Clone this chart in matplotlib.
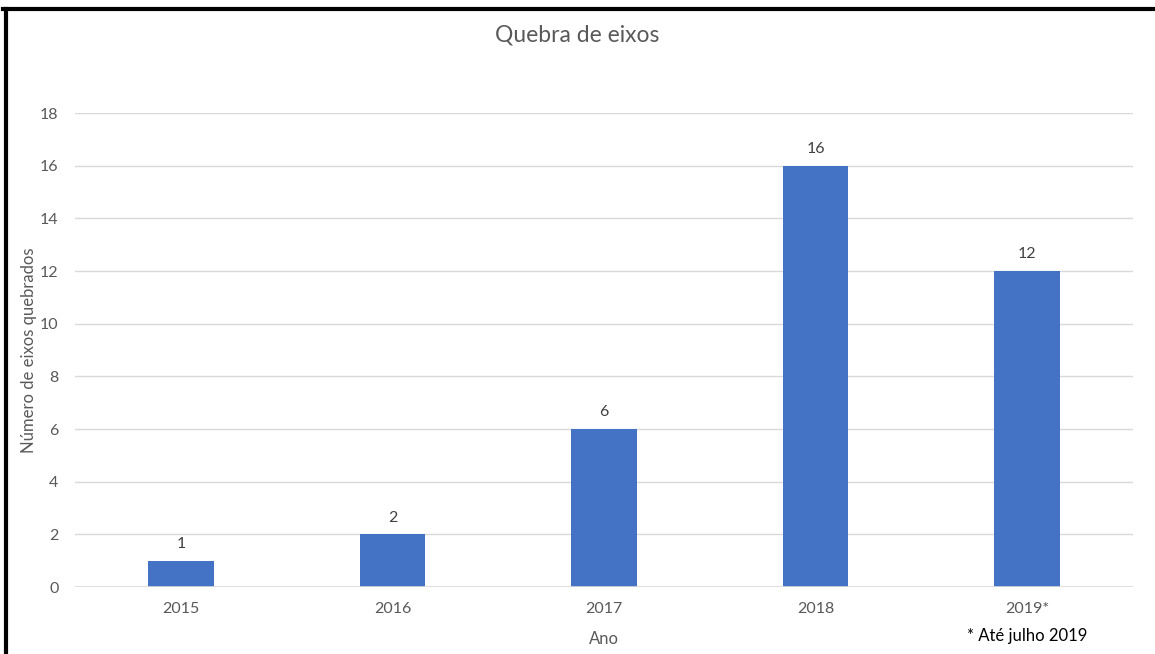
import matplotlib
matplotlib.use("Agg")
import matplotlib.pyplot as plt
from matplotlib.lines import Line2D

plt.rcParams['font.family'] = ['Lato', 'DejaVu Sans']

# Quebras de eixo por ano
anos = ['2015', '2016', '2017', '2018', '2019*']
quebras = [1, 2, 6, 16, 12]
y_ticks = [0, 2, 4, 6, 8, 10, 12, 14, 16, 18]

COR_BARRA = '#4472C4'
COR_TEXTO = '#595959'
COR_GRADE = '#D9D9D9'

fig = plt.figure(figsize=(11.55, 6.54), dpi=100)
ax = fig.add_axes([0.065, 0.1024, 0.916, 0.7248])

x = range(len(anos))
ax.bar(x, quebras, width=0.31, color=COR_BARRA, zorder=3)

for xi, v in zip(x, quebras):
    ax.annotate(str(v), (xi, v), xytext=(0, 7), textcoords='offset points',
                ha='center', va='bottom', fontsize=11.5, color='#404040')

ax.set_xlim(-0.5, len(anos) - 0.5)
ax.set_ylim(0, 18)
ax.set_yticks(y_ticks)
ax.set_xticks(list(x))
ax.set_xticklabels(anos)
ax.tick_params(axis='both', length=0, labelsize=11.5, labelcolor=COR_TEXTO)
ax.tick_params(axis='x', pad=11)
ax.tick_params(axis='y', pad=12)

ax.grid(axis='y', color=COR_GRADE, linewidth=1, zorder=0)
for s in ax.spines.values():
    s.set_visible(False)
ax.axhline(0, color=COR_GRADE, linewidth=1.2, zorder=4)

ax.set_xlabel('Ano', fontsize=12, color=COR_TEXTO)
ax.xaxis.set_label_coords(0.5, -0.092)
ax.set_ylabel('Número de eixos quebrados', fontsize=12, color=COR_TEXTO)
ax.yaxis.set_label_coords(-0.036, 0.5)
fig.text(0.4995, 0.947, 'Quebra de eixos', ha='center', va='center',
         fontsize=16.5, color=COR_TEXTO)
fig.text(0.889, 0.027, '* Até julho 2019', ha='center', va='center',
         fontsize=12, color='black')

# moldura preta (topo e lado esquerdo)
fig.add_artist(Line2D([0.003, 1.0], [0.987, 0.987], color='black', linewidth=3,
                      transform=fig.transFigure))
fig.add_artist(Line2D([0.0052, 0.0052], [0.0, 0.987], color='black', linewidth=3,
                      transform=fig.transFigure))

fig.savefig('out.png', dpi=100)
